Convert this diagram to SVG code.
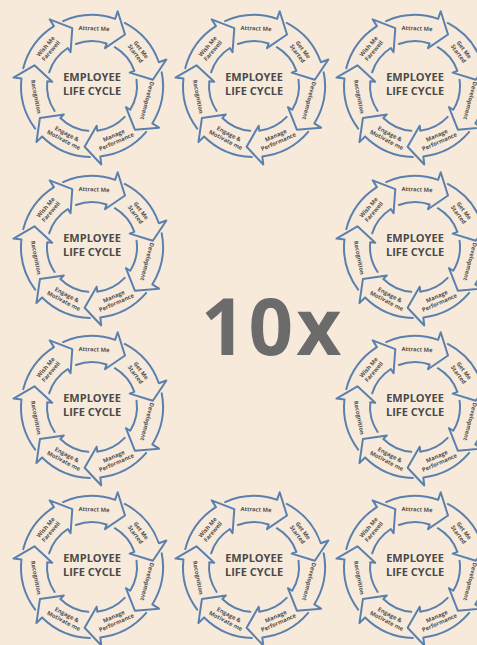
<svg xmlns="http://www.w3.org/2000/svg" width="477" height="645" viewBox="0 0 477 645">
<style>
.ring{fill:none;stroke:#5a80ae;stroke-width:2;stroke-linejoin:round;stroke-linecap:round}
.lbl{font-family:"Open Sans","Liberation Sans",sans-serif;font-size:5.8px;font-weight:700;fill:#505050;text-anchor:middle}
.ctr{font-family:"Open Sans","Liberation Sans",sans-serif;font-size:11px;font-weight:700;fill:#4a4a4a;text-anchor:middle}
.big{font-family:"Open Sans","Liberation Sans",sans-serif;font-size:78px;font-weight:700;fill:#6b6b6b}
</style>
<defs>
<path id="arr" class="ring" d="M -28.9 -64.9 A 71 71 0 0 1 23.1 -67.1 L 25.7 -74.7 L 33 -51.5 L 13 -37.8 L 14.65 -42.55 A 45 45 0 0 0 -16.1 -42"/>
<g id="cycle">
<use href="#arr"/>
<use href="#arr" transform="rotate(51.4286)"/>
<use href="#arr" transform="rotate(102.857)"/>
<use href="#arr" transform="rotate(154.286)"/>
<use href="#arr" transform="rotate(205.714)"/>
<use href="#arr" transform="rotate(257.143)"/>
<use href="#arr" transform="rotate(308.571)"/>
<text class="lbl" transform="translate(2,-57.5) rotate(2)" y="2">Attract Me</text>
<text class="lbl" transform="translate(46.2,-34.3) rotate(53.4)"><tspan x="0" y="-1.4">Get Me</tspan><tspan x="0" y="5.4">Started</tspan></text>
<text class="lbl" transform="translate(55.1,14.6) rotate(104.86)" y="2">Development</text>
<text class="lbl" transform="translate(23.1,52.6) rotate(-23.7)"><tspan x="0" y="-1.4">Manage</tspan><tspan x="0" y="5.4">Performance</tspan></text>
<text class="lbl" transform="translate(-26.7,50.9) rotate(27.7)"><tspan x="0" y="-1.4">Engage &amp;</tspan><tspan x="0" y="5.4">Motivate me</tspan></text>
<text class="lbl" transform="translate(-56,10.7) rotate(79.14)" y="2">Recognition</text>
<text class="lbl" transform="translate(-43.7,-37.4) rotate(-49.43)"><tspan x="0" y="-1.4">Wish Me</tspan><tspan x="0" y="5.4">Farewell</tspan></text>
<text class="ctr" y="-5">EMPLOYEE</text>
<text class="ctr" y="8.5">LIFE CYCLE</text>
</g>
</defs>
<rect width="477" height="645" fill="#f8eadb"/>
<g id="cycle-1"><use href="#cycle" x="92" y="86"/></g>
<g id="cycle-2"><use href="#cycle" x="254" y="86"/></g>
<g id="cycle-3"><use href="#cycle" x="415" y="86"/></g>
<g id="cycle-4"><use href="#cycle" x="92" y="247"/></g>
<g id="cycle-5"><use href="#cycle" x="415" y="247"/></g>
<g id="cycle-6"><use href="#cycle" x="92" y="407"/></g>
<g id="cycle-7"><use href="#cycle" x="415" y="407"/></g>
<g id="cycle-8"><use href="#cycle" x="92" y="567"/></g>
<g id="cycle-9"><use href="#cycle" x="254" y="567"/></g>
<g id="cycle-10"><use href="#cycle" x="415" y="567"/></g>
<g id="connectors"></g>
<text id="title" class="big" x="201" y="355" letter-spacing="3">10x</text>
</svg>
